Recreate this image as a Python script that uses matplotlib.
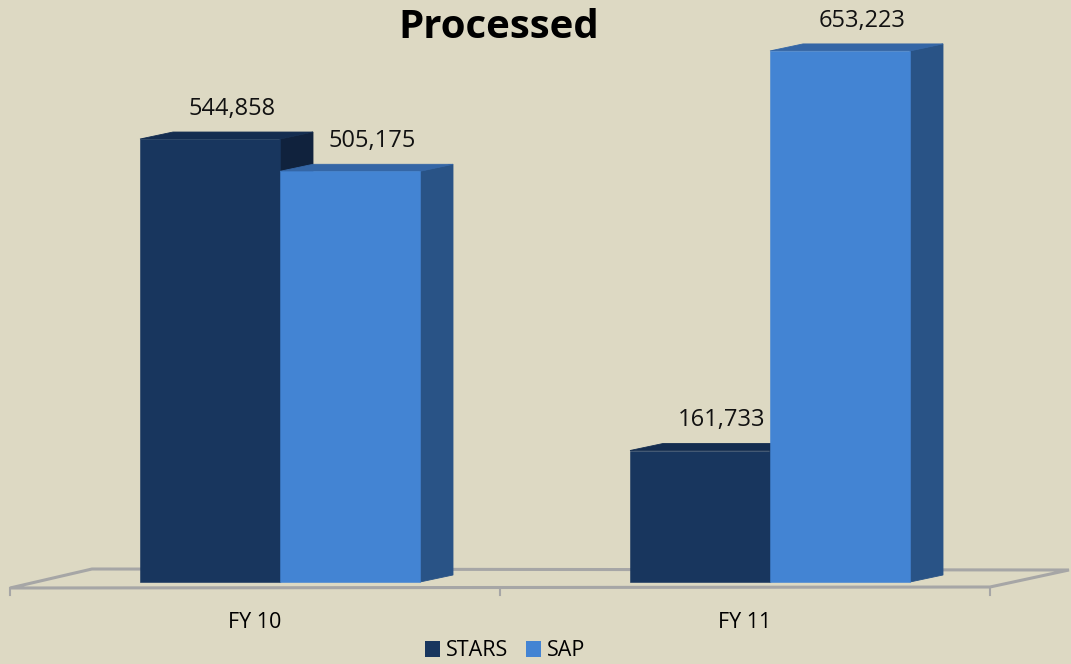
import matplotlib
matplotlib.use("Agg")
import matplotlib.pyplot as plt
from matplotlib.patches import Polygon, Patch
import numpy as np

categories = ["FY 10", "FY 11"]
series_names = ["STARS", "SAP"]
stars = [544858, 161733]
sap = [505175, 653223]

plt.rcParams['font.family'] = ['Open Sans', 'DejaVu Sans']

bg = "#DDD9C3"
# front, side, top colours for each series
colors = {
    "STARS": ("#18365E", "#10223D", "#142D50"),
    "SAP": ("#4384D3", "#295386", "#3466A6"),
}

W, H = 1071, 664
fig = plt.figure(figsize=(W / 100, H / 100), dpi=100, facecolor=bg)
ax = fig.add_axes([0, 0, 1, 1])
ax.set_facecolor(bg)

# scale: 490 px per category on x, ~1230 value units per px on y
px_x = 1 / 490.0
px_y = 1230.0
ax.set_xlim(-10 * px_x, (W - 10) * px_x)
ax.set_ylim(-(H - 582) * px_y, 582 * px_y)
ax.axis('off')

bar_w = 140 * px_x
shift = 25 * px_x          # bars sit back from the front of the floor
dx, dy = 33 * px_x, 7 * px_y  # depth of the 3D boxes

# floor
floor = Polygon([(0, -6 * px_y), (82 * px_x, 13 * px_y),
                 (1059 * px_x, 12 * px_y), (980 * px_x, -5 * px_y)],
                closed=True, facecolor=bg, edgecolor="#A6A6A6", lw=2.2, zorder=1)
ax.add_patch(floor)
for t in [0, 1, 2]:
    ax.plot([t, t], [-6 * px_y, -13 * px_y], color="#A6A6A6", lw=1.5, zorder=1)


def box(x0, val, cols, z):
    front, side, top = cols
    x1 = x0 + bar_w
    # side and top first, front on top; thin same-colour edges hide seams
    ax.add_patch(Polygon([(x1, 0), (x1 + dx, dy), (x1 + dx, val + dy), (x1, val)],
                         closed=True, facecolor=side, edgecolor=side, lw=0.6, zorder=z))
    ax.add_patch(Polygon([(x0, val), (x0 + dx, val + dy), (x1 + dx, val + dy), (x1, val)],
                         closed=True, facecolor=top, edgecolor=top, lw=0.6, zorder=z))
    ax.bar(x0, val, width=bar_w, align='edge', color=front, edgecolor=front,
           lw=0.4, zorder=z)


centers = np.arange(len(categories)) + 0.5
for i, c in enumerate(centers):
    for j, (name, vals) in enumerate(zip(series_names, [stars, sap])):
        x0 = c + shift - bar_w + j * bar_w
        box(x0, vals[i], colors[name], 2 + j)
        ax.annotate(f"{vals[i]:,}", (x0 + bar_w / 2, vals[i]), xytext=(15.8, 17.3),
                    textcoords='offset points', ha='center', va='baseline',
                    fontsize=17, color='#111111', zorder=10)

for c, lab in zip(centers, categories):
    ax.text(c, -40 * px_y, lab, ha='center', va='center', fontsize=15.5, color='black')

fig.text(0.466, 1 - 27 / H, "Processed", ha='center', va='center',
         fontsize=29, fontweight='bold', color='black')

handles = [Patch(facecolor=colors[n][0], label=n) for n in series_names]
fig.legend(handles=handles, loc='center', bbox_to_anchor=(505 / W, 1 - 651 / H),
           ncol=2, frameon=False, fontsize=15.5, handlelength=0.7, handleheight=0.7,
           handletextpad=0.3, columnspacing=0.8, borderaxespad=0, borderpad=0)

fig.savefig("out.png", dpi=100, facecolor=bg)
